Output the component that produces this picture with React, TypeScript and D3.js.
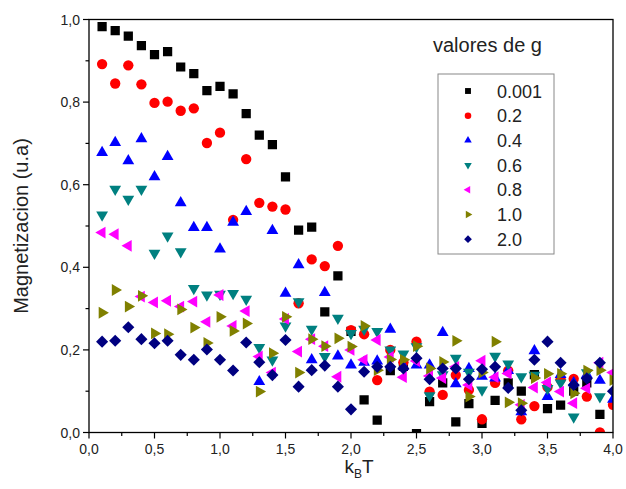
import React from "react";
import * as d3 from "d3";

const xValues = [0.1,0.2,0.3,0.4,0.5,0.6,0.7,0.8,0.9,1.0,1.1,1.2,1.3,1.4,1.5,1.6,1.7,1.8,1.9,2.0,2.1,2.2,2.3,2.4,2.5,2.6,2.7,2.8,2.9,3.0,3.1,3.2,3.3,3.4,3.5,3.6,3.7,3.8,3.9,4.0];

const g0001 = [0.983,0.973,0.960,0.937,0.915,0.922,0.885,0.869,0.828,0.838,0.820,0.772,0.720,0.697,0.619,0.490,0.497,0.292,0.379,0.245,0.079,0.030,0.15,0.16,-0.003,0.075,0.12,0.026,0.070,0.022,0.078,0.12,0.10,0.14,0.058,0.066,0.10,0.12,0.044,null];
const g02 = [0.892,0.845,0.889,0.843,0.798,0.801,0.779,0.785,0.701,0.726,0.515,0.662,0.556,0.547,0.540,0.313,0.419,0.403,0.452,0.248,0.238,0.127,0.20,0.17,0.22,0.099,0.091,0.139,0.103,0.032,0.12,0.15,0.032,0.064,0.11,0.129,0.13,0.087,0.0,0.067];
const g04 = [0.678,0.702,0.658,0.711,0.619,0.668,0.556,0.496,0.496,0.444,0.509,0.535,0.123,0.489,0.337,0.406,0.176,0.339,0.185,0.163,0.17,0.173,0.25,0.16,0.163,0.163,0.242,0.118,0.155,0.136,0.132,0.15,0.05,0.198,0.087,0.14,0.12,0.14,0.126,0.08];
const g06 = [0.527,0.589,0.565,0.589,0.434,0.476,0.438,0.349,0.333,0.335,0.337,0.323,0.206,0.176,0.258,0.317,0.25,0.184,0.277,0.24,0.25,0.245,0.2,0.19,0.208,0.089,0.14,0.18,0.146,0.103,0.185,0.166,0.135,0.139,0.107,0.12,0.038,0.145,0.087,null];
const g08 = [0.484,0.48,0.452,0.329,0.315,0.319,0.305,0.317,0.268,0.333,0.258,0.294,0.184,0.145,0.275,0.196,0.226,0.209,0.135,0.2,0.176,0.224,0.183,0.134,0.173,0.137,0.132,0.159,0.115,0.174,0.134,0.143,0.067,0.109,0.121,0.099,0.071,0.107,0.169,0.145];
const g10 = [0.29,0.345,0.305,0.331,0.24,0.238,0.298,0.254,0.217,0.28,0.246,0.264,0.099,0.192,0.28,0.145,0.226,0.209,0.228,0.208,0.258,0.151,0.177,0.176,0.209,0.155,0.171,0.222,0.087,0.145,0.22,0.073,0.071,0.132,0.142,0.142,0.095,0.15,0.151,0.127];
const g20 = [0.22,0.222,0.255,0.226,0.216,0.222,0.188,0.176,0.201,0.176,0.15,0.218,0.17,0.139,0.224,0.111,0.151,0.162,0.111,0.056,0.147,0.159,0.159,0.155,0.18,0.129,0.155,0.155,0.129,0.153,0.159,0.108,0.054,0.176,0.22,0.169,0.115,0.131,0.169,0.1];

const seriesLabels = ["0.001","0.2","0.4","0.6","0.8","1.0","2.0"];
const seriesValues = [g0001,g02,g04,g06,g08,g10,g20];
const seriesColors = ["#000000","#ff0000","#0000ff","#008080","#ff00ff","#808000","#000080"];
const seriesShapes = ["square","circle","up","down","left","right","diamond"];

const xTicks = [0,0.5,1,1.5,2,2.5,3,3.5,4];
const yTicks = [0,0.2,0.4,0.6,0.8,1.0];

const W = 626, H = 489;
const L = 89, R = 613, T = 19.5, B = 432.5;

function markerPath(shape: string, s: number): string {
  const tri = (ang: number) => {
    const r = s * 0.62;
    const pts = [0, 120, 240].map((a) => {
      const t = ((a + ang - 90) * Math.PI) / 180;
      return [r * Math.cos(t), r * Math.sin(t)];
    });
    return "M" + pts.map((p) => p[0].toFixed(2) + "," + p[1].toFixed(2)).join("L") + "Z";
  };
  switch (shape) {
    case "square": {
      const h = s * 0.42;
      return `M${-h},${-h}L${h},${-h}L${h},${h}L${-h},${h}Z`;
    }
    case "circle": {
      const r = s * 0.47;
      return `M${r},0A${r},${r},0,1,1,${-r},0A${r},${r},0,1,1,${r},0Z`;
    }
    case "up": return tri(0);
    case "down": return tri(180);
    case "left": return tri(-90);
    case "right": return tri(90);
    case "diamond": {
      const h = s * 0.55;
      return `M0,${-h}L${h},0L0,${h}L${-h},0Z`;
    }
  }
  return "";
}

export default function App() {
  const x = d3.scaleLinear().domain([0, 4]).range([L, R]);
  const y = d3.scaleLinear().domain([0, 1]).range([B, T]);
  const fmt = (v: number) => d3.format(".1f")(v).replace(".", ",");
  const xMinor = d3.range(0, 4.001, 0.25);
  const yMinor = d3.range(0, 1.001, 0.1);

  return (
    <svg width={W} height={H} style={{ position: "absolute", left: 0, top: 0, background: "#fff" }} fontFamily="Liberation Sans, Arial, sans-serif">
      <defs>
        <clipPath id="plotclip">
          <rect x={L} y={T} width={R - L} height={B - T} />
        </clipPath>
      </defs>
      <rect x={0} y={0} width={W} height={H} fill="#fff" />
      <g clipPath="url(#plotclip)">
        {seriesValues.map((vals, si) => (
          <g key={si} fill={seriesColors[si]}>
            {vals.map((v, i) =>
              v === null ? null : (
                <path key={i} d={markerPath(seriesShapes[si], 11)} transform={`translate(${x(xValues[i])},${y(v)})`} />
              )
            )}
          </g>
        ))}
      </g>
      <rect x={L} y={T} width={R - L} height={B - T} fill="none" stroke="#000" strokeWidth={1.3} />
      {xMinor.map((t, i) => {
        const major = i % 2 === 0;
        return <line key={"xm" + i} x1={x(t)} x2={x(t)} y1={B} y2={B + (major ? 6 : 3.5)} stroke="#000" strokeWidth={1.2} />;
      })}
      {yMinor.map((t, i) => {
        const major = i % 2 === 0;
        return <line key={"ym" + i} x1={L} x2={L - (major ? 6 : 3.5)} y1={y(t)} y2={y(t)} stroke="#000" strokeWidth={1.2} />;
      })}
      {xTicks.map((t) => (
        <text key={"xt" + t} x={x(t)} y={454} textAnchor="middle" fontSize={14} fill="#222">{fmt(t)}</text>
      ))}
      {yTicks.map((t) => (
        <text key={"yt" + t} x={L - 9} y={y(t) + 5} textAnchor="end" fontSize={14} fill="#222">{fmt(t)}</text>
      ))}
      <text x={359} y={473} textAnchor="middle" fontSize={19} fill="#222">
        k<tspan fontSize={12} dy={5}>B</tspan><tspan dy={-5}>T</tspan>
      </text>
      <text transform={`translate(28,${226}) rotate(-90)`} textAnchor="middle" fontSize={20} fill="#222">Magnetizacion (u.a)</text>
      <text x={433} y={52} fontSize={20} fill="#222">valores de g</text>
      <rect x={438} y={74} width={116} height={180} fill="#fff" stroke="#888" strokeWidth={1} />
      {seriesLabels.map((lab, i) => {
        const cy = 91 + i * 24.7;
        return (
          <g key={"lg" + i}>
            <path d={markerPath(seriesShapes[i], 7)} transform={`translate(468,${cy})`} fill={seriesColors[i]} />
            <text x={497} y={cy + 6.5} fontSize={18} fill="#222">{lab}</text>
          </g>
        );
      })}
    </svg>
  );
}
